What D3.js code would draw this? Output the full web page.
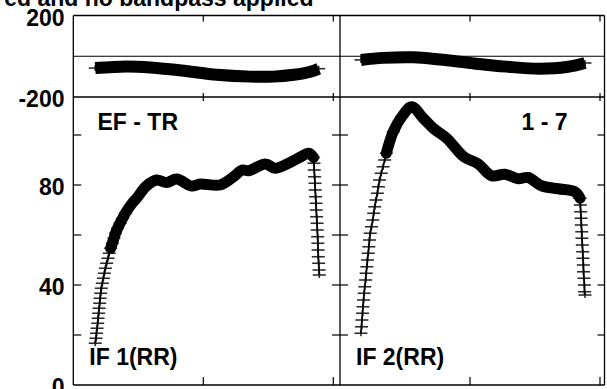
<!DOCTYPE html>
<html><head><meta charset="utf-8">
<script src="https://cdn.jsdelivr.net/npm/d3@7"></script>
<style>html,body{margin:0;padding:0;background:#fff;overflow:hidden}svg{display:block}</style>
</head><body>
<svg id="c" width="607" height="389"></svg>
<script>
// ---------------- data ----------------
const titleText = "ed and no bandpass applied";
const ifLabels = ["IF 1(RR)", "IF 2(RR)"];
const baselineLabel = "EF - TR";
const channelLabel = "1 - 7";
const chanTicks = [64, 128];
const ampTicks = [20, 40, 60, 80, 100];
const ampTickLabels = [0, 40, 80];
const phaseTickLabels = [200, -200];

// IF 1 amplitude (channel, value)
const if1AmpChan = [10.8, 11.2, 11.4, 11.7, 12.0, 12.2, 12.5, 12.7, 13.0, 13.2, 13.5, 13.8, 14.3, 14.8, 15.3, 15.8, 16.4, 17.1, 17.7, 18.4, 19.2, 20.0, 20.8, 21.8, 23.0, 24.3, 25.6, 28.7, 31.2, 36.1, 41.0, 45.9, 50.9, 58.2, 62.5, 72.2, 78.9, 83.1, 86.3, 94.5, 99.3, 105.2, 111.8, 115.8, 118.3,
  118.5, 118.6, 118.8, 119.0, 119.1, 119.3, 119.5, 119.6, 119.8, 120.0, 120.1, 120.3, 120.4, 120.5, 120.6, 120.8, 121.0, 121.1];
const if1AmpVal = [16.7, 18.7, 20.7, 22.7, 24.7, 26.7, 28.7, 30.7, 32.7, 34.7, 36.7, 38.7, 40.7, 42.7, 44.7, 46.7, 48.7, 50.7, 52.7, 54.7, 56.7, 58.7, 60.7, 62.7, 64.7, 66.7, 68.7, 72.4, 74.7, 79.7, 82.0, 81.0, 82.4, 79.6, 80.4, 80.0, 83.3, 86.0, 85.7, 88.4, 86.7, 88.4, 91.2, 92.7, 91.0,
  88.7, 86.0, 83.3, 80.7, 78.0, 75.3, 72.7, 70.0, 67.3, 64.7, 62.0, 59.3, 56.7, 54.0, 51.3, 48.7, 46.0, 44.0];

// IF 2 amplitude (channel, value)
const if2AmpChan = [10.3, 10.6, 10.8, 11.1, 11.3, 11.6, 11.9, 12.2, 12.6, 12.9, 13.2, 13.5, 13.9, 14.2, 14.5, 14.9, 15.5, 16.1, 16.6, 17.1, 17.7, 18.4, 18.9, 19.5, 20.3, 21.2, 22.0, 22.8, 26.2, 30.4, 35.3, 41.0, 45.9, 52.5, 59.1, 61.5, 68.1, 74.6, 81.2, 87.7, 92.6, 99.2, 107.4, 115.6,
  118.2, 118.3, 118.5, 118.7, 118.8, 119.0, 119.1, 119.3, 119.5, 119.6, 119.8, 119.9, 120.1, 120.3, 120.4, 120.6];
const if2AmpVal = [20.7, 23.3, 26.0, 28.7, 31.3, 34.0, 36.7, 39.3, 42.0, 44.7, 47.3, 50.0, 52.7, 55.3, 58.0, 60.7, 63.3, 66.0, 68.7, 71.3, 74.0, 76.7, 79.3, 82.0, 84.7, 87.3, 90.0, 92.7, 101.3, 107.3, 111.3, 106.7, 102.7, 98.7, 92.7, 91.0, 88.4, 83.7, 84.3, 82.5, 83.0, 79.7, 78.5, 77.3,
  74.7, 72.0, 69.3, 66.7, 64.0, 61.3, 58.7, 56.0, 53.3, 50.7, 48.0, 45.3, 42.7, 40.0, 37.3, 36.0];

// phases (channel, degrees)
const if1PhsChan = [10.8, 26.4, 37.9, 54.3, 70.7, 87.1, 98.6, 108.5, 116.7, 120.8];
const if1PhsVal = [-58, -50, -55, -71, -91, -100, -100, -91, -76, -61];
const if2PhsChan = [10.3, 21.2, 36.1, 49.2, 65.6, 82.0, 98.5, 111.6, 120.6];
const if2PhsVal = [-18, -8, -5, -16, -35, -51, -61, -53, -33];

// ---------------- layout ----------------
const svg = d3.select("#c");
const FONT = "'Liberation Sans', Arial, Helvetica, sans-serif";
const panelX0 = [73.3, 340];
const rightEdge = 604.5;
const topY = 15.5, midY = 97, botY = 385;

const xs = panelX0.map(x0 => d3.scaleLinear().domain([0, 64]).range([x0, x0 + 130]));
const yTop = d3.scaleLinear().domain([-200, 200]).range([midY, topY]);
const yBot = d3.scaleLinear().domain([0, 40]).range([botY, botY - 100]);

const g = svg.append("g");

// frame
const hLines = [topY, midY, botY];
hLines.forEach(y => g.append("line").attr("x1", panelX0[0]).attr("x2", rightEdge).attr("y1", y).attr("y2", y)
  .attr("stroke", "#000").attr("stroke-width", 1.3));
[panelX0[0], panelX0[1], rightEdge].forEach(x => g.append("line").attr("x1", x).attr("x2", x).attr("y1", topY).attr("y2", botY)
  .attr("stroke", "#000").attr("stroke-width", 1.3));
// zero lines in phase panels
g.append("line").attr("x1", panelX0[0]).attr("x2", rightEdge).attr("y1", yTop(0)).attr("y2", yTop(0))
  .attr("stroke", "#000").attr("stroke-width", 1);

// x ticks
xs.forEach(x => {
  chanTicks.forEach(c => {
    const px = x(c);
    [[topY, topY + 6], [midY - 4, midY + 4], [botY - 8, botY]].forEach(([a, b]) =>
      g.append("line").attr("x1", px).attr("x2", px).attr("y1", a).attr("y2", b).attr("stroke", "#000").attr("stroke-width", 1.2));
  });
});
// y ticks (amplitude panels)
ampTicks.forEach(v => {
  const py = yBot(v);
  [[panelX0[0], panelX0[0] + 8], [panelX0[1] - 8, panelX0[1] + 8], [rightEdge - 7, rightEdge]].forEach(([a, b]) =>
    g.append("line").attr("x1", a).attr("x2", b).attr("y1", py).attr("y2", py).attr("stroke", "#000").attr("stroke-width", 1.2));
});

// tick labels
const lab = (t, x, y, anchor) => g.append("text").text(t).attr("x", x).attr("y", y)
  .attr("text-anchor", anchor || "start").attr("font-family", FONT).attr("font-weight", "bold")
  .attr("font-size", "23px").attr("fill", "#000");
phaseTickLabels.forEach(v => lab(String(v), 64.5, yTop(v) + 10, "end"));
ampTickLabels.forEach(v => lab(String(v), 64.5, yBot(v) + 9.5, "end"));

// title & annotations
lab(titleText, 313.5, 5.5, "end");
lab(baselineLabel, 97.5, 129.5);
lab(channelLabel, 521.5, 130);
lab(ifLabels[0], 89.3, 365);
lab(ifLabels[1], 356, 365);

// ---------------- data drawing ----------------
function drawSeries(x, y, chans, vals, bandW, capStyle) {
  const pts = chans.map((c, i) => [x(c), y(vals[i])]);
  // crosses at every sample
  const cg = g.append("g").attr("stroke", "#2e2e2e").attr("stroke-width", 1.6);
  pts.forEach(([px, py]) => {
    cg.append("line").attr("x1", px - 6.5).attr("x2", px + 6.5).attr("y1", py).attr("y2", py);
    cg.append("line").attr("x1", px).attr("x2", px).attr("y1", py - 3).attr("y2", py + 3);
  });
  // dense band where samples overlap (non-steep runs)
  const runs = [];
  let cur = [pts[0]];
  for (let i = 1; i < pts.length; i++) {
    const dx = Math.abs(pts[i][0] - pts[i - 1][0]), dy = Math.abs(pts[i][1] - pts[i - 1][1]);
    if (dy <= 3.2 * dx) { cur.push(pts[i]); }
    else { if (cur.length > 1) runs.push(cur); cur = [pts[i]]; }
  }
  if (cur.length > 1) runs.push(cur);
  const band = d3.line().curve(d3.curveCatmullRom.alpha(0.5));
  runs.forEach(r => g.append("path").attr("d", band(r)).attr("fill", "none").attr("stroke", "#000")
    .attr("stroke-width", bandW).attr("stroke-linecap", capStyle).attr("stroke-linejoin", "round"));
  // connecting line
  g.append("path").attr("d", d3.line()(pts)).attr("fill", "none").attr("stroke", "#000").attr("stroke-width", 1.8);
}

drawSeries(xs[0], yTop, if1PhsChan, if1PhsVal, 12, "butt");
drawSeries(xs[1], yTop, if2PhsChan, if2PhsVal, 12, "butt");
drawSeries(xs[0], yBot, if1AmpChan, if1AmpVal, 11, "round");
drawSeries(xs[1], yBot, if2AmpChan, if2AmpVal, 11, "round");
</script>
</body></html>
